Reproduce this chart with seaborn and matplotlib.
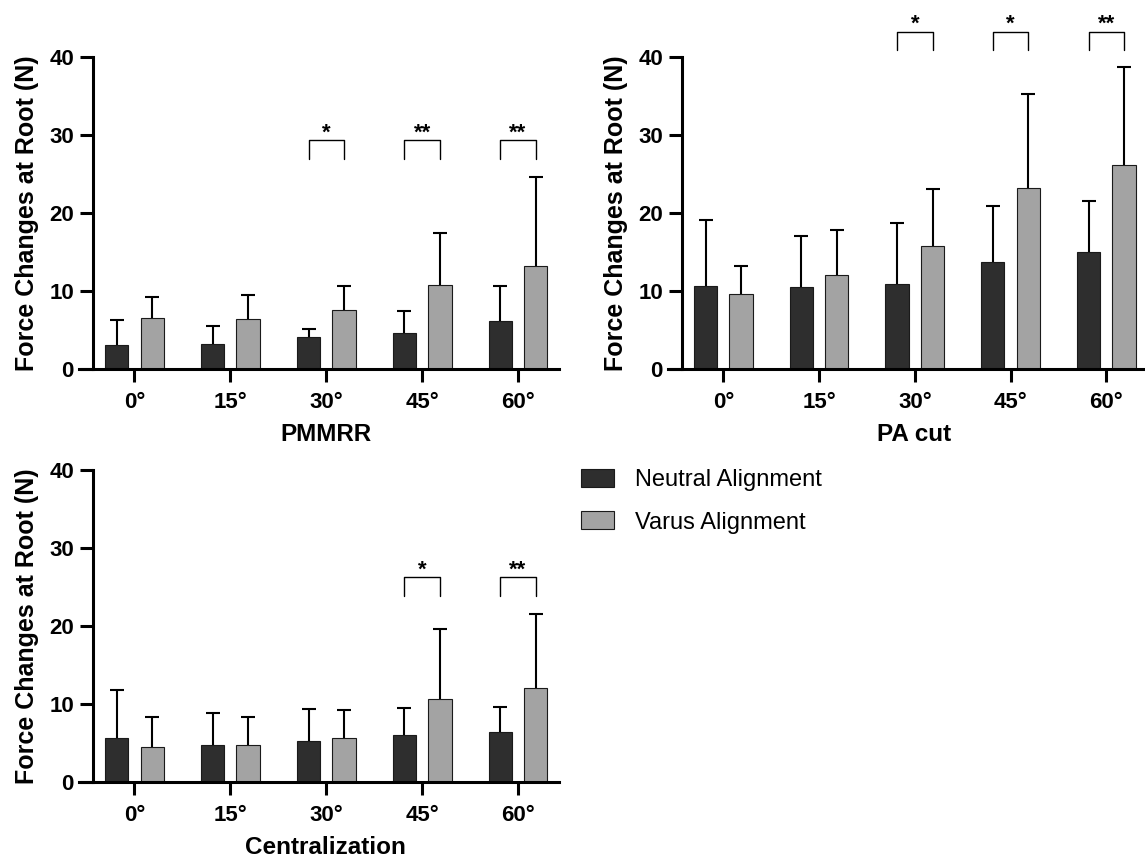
import matplotlib
matplotlib.use("Agg")
import matplotlib.pyplot as plt
import seaborn as sns
import pandas as pd

# angles on the x axis
angles = ['0°', '15°', '30°', '45°', '60°']
groups = ['Neutral Alignment', 'Varus Alignment']

# means and SD (upper error), in N
pmmrr_neutral = [3.1, 3.3, 4.1, 4.7, 6.2]
pmmrr_neutral_sd = [3.2, 2.2, 1.1, 2.8, 4.5]
pmmrr_varus = [6.6, 6.5, 7.6, 10.8, 13.3]
pmmrr_varus_sd = [2.7, 3.0, 3.1, 6.7, 11.4]

pacut_neutral = [10.7, 10.6, 11.0, 13.8, 15.1]
pacut_neutral_sd = [8.5, 6.5, 7.7, 7.1, 6.5]
pacut_varus = [9.7, 12.1, 15.8, 23.3, 26.2]
pacut_varus_sd = [3.5, 5.7, 7.3, 12.0, 12.5]

central_neutral = [5.7, 4.8, 5.3, 6.0, 6.4]
central_neutral_sd = [6.1, 4.1, 4.1, 3.5, 3.3]
central_varus = [4.5, 4.8, 5.7, 10.7, 12.1]
central_varus_sd = [3.8, 3.5, 3.6, 8.9, 9.5]

# significance marks per angle index
pmmrr_sig = {2: '*', 3: '**', 4: '**'}
pacut_sig = {2: '*', 3: '*', 4: '**'}
central_sig = {3: '*', 4: '**'}

colors = ['#2e2e2e', '#a3a3a3']

sns.set_style('ticks')
plt.rcParams['font.family'] = ['Liberation Sans', 'DejaVu Sans']
plt.rcParams['text.color'] = 'black'
plt.rcParams['axes.labelcolor'] = 'black'
plt.rcParams['xtick.color'] = 'black'
plt.rcParams['ytick.color'] = 'black'

W, H = 1145, 861
fig = plt.figure(figsize=(W / 100, H / 100), dpi=100)


def px_axes(left, top, right, bottom):
    return fig.add_axes([left / W, 1 - bottom / H, (right - left) / W, (bottom - top) / H])


def panel(ax, neutral, neutral_sd, varus, varus_sd, sig, br_top, xlabel, legend=False):
    df = pd.DataFrame({
        'Angle': angles * 2,
        'Group': [groups[0]] * 5 + [groups[1]] * 5,
        'Force': neutral + varus,
    })
    sns.barplot(data=df, x='Angle', y='Force', hue='Group', order=angles,
                hue_order=groups, palette=colors, width=0.74, gap=0.343,
                errorbar=None, edgecolor='#1a1a1a', linewidth=0.8,
                legend=legend, ax=ax)

    # one-sided SD bars (drop the lower cap)
    centers = []
    for cont, sd in zip(ax.containers, [neutral_sd, varus_sd]):
        xs = [b.get_x() + b.get_width() / 2 for b in cont]
        ys = [b.get_height() for b in cont]
        centers.append(xs)
        _, caps, _ = ax.errorbar(xs, ys, yerr=[[0] * len(sd), sd], fmt='none',
                                 ecolor='black', elinewidth=1.5, capsize=5,
                                 capthick=1.5, zorder=1)
        caps[0].remove()

    # significance brackets
    for i, mark in sig.items():
        x0, x1 = centers[0][i], centers[1][i]
        ax.plot([x0, x0, x1, x1], [br_top - 2.4, br_top, br_top, br_top - 2.4],
                color='black', lw=1.0, clip_on=False)
        ax.text((x0 + x1) / 2, br_top + 0.2, mark, ha='center', va='baseline',
                fontsize=16, fontweight='bold', clip_on=False)

    ax.set_xlim(-0.575, 4.425)
    ax.set_ylim(0, 40)
    ax.set_yticks([0, 10, 20, 30, 40])
    sns.despine(ax=ax)
    ax.spines['left'].set_position(('data', -0.437))
    for s in ['left', 'bottom']:
        ax.spines[s].set_linewidth(2.2)
        ax.spines[s].set_color('black')
    ax.tick_params(axis='both', length=9.4, width=2.2, labelsize=16, color='black')
    ax.tick_params(axis='x', pad=7)
    ax.tick_params(axis='y', pad=4)
    for lab in ax.get_xticklabels() + ax.get_yticklabels():
        lab.set_fontweight('bold')
    ax.set_ylabel('Force Changes at Root (N)', fontsize=18, fontweight='bold', labelpad=7)
    ax.set_xlabel(xlabel, fontsize=17.5, fontweight='bold')
    ax.xaxis.set_label_coords(0.514, -0.172)


ax1 = px_axes(79.3, 57.3, 558.8, 369.3)
panel(ax1, pmmrr_neutral, pmmrr_neutral_sd, pmmrr_varus, pmmrr_varus_sd,
      pmmrr_sig, 29.4, 'PMMRR')

ax2 = px_axes(668.3, 57.3, 1147, 369.3)
panel(ax2, pacut_neutral, pacut_neutral_sd, pacut_varus, pacut_varus_sd,
      pacut_sig, 43.3, 'PA cut')

ax3 = px_axes(79.3, 470, 558.8, 782.3)
panel(ax3, central_neutral, central_neutral_sd, central_varus, central_varus_sd,
      central_sig, 26.3, 'Centralization', legend=True)

handles, labels = ax3.get_legend_handles_labels()
ax3.get_legend().remove()
fig.legend(handles, labels, loc='upper left', bbox_to_anchor=(581 / W, 1 - 469 / H),
           frameon=False, fontsize=17, handlelength=1.4, handleheight=0.8,
           handletextpad=0.9, labelspacing=0.85, borderpad=0, borderaxespad=0)

fig.savefig('out.png', dpi=100)
